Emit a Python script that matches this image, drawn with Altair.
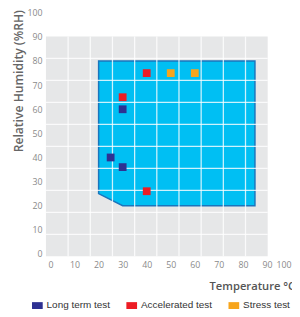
import altair as alt
import pandas as pd

# ---- data ----
zone_temp = [20, 85, 85, 30, 20]
zone_rh = [80, 80, 20, 20, 25]

series = ["Long term test", "Accelerated test", "Stress test"]
colors = ["#2e3192", "#ed1c24", "#f7a51c"]

long_temp = [30, 25, 30]
long_rh = [60, 40, 36]
acc_temp = [40, 30, 40]
acc_rh = [75, 65, 26]
stress_temp = [50, 60]
stress_rh = [75, 75]

axis_ticks = list(range(0, 101, 10))
grid_cells = list(range(1, 10))

# ---- tables ----
zone_df = pd.DataFrame({"t": zone_temp, "rh": zone_rh, "i": range(len(zone_temp))})
pts_df = pd.concat([
    pd.DataFrame({"t": long_temp, "rh": long_rh, "s": series[0]}),
    pd.DataFrame({"t": acc_temp, "rh": acc_rh, "s": series[1]}),
    pd.DataFrame({"t": stress_temp, "rh": stress_rh, "s": series[2]}),
], ignore_index=True)
grid_df = pd.DataFrame({"g": grid_cells})

W, H = 228, 226
xs = alt.Scale(domain=[-1.9, 100], range=[0, 252], nice=False, zero=False)
ys = alt.Scale(domain=[-1, 100], range=[226, -24.3], nice=False, zero=False)
gxs = alt.Scale(domain=[0, 10], range=[0, W], nice=False)
gys = alt.Scale(domain=[0, 10], range=[H, 0], nice=False)

zone = alt.Chart(zone_df).mark_line(
    interpolate="linear-closed", fill="#00bff3", stroke="#1b75bc", strokeWidth=1.5
).encode(
    x=alt.X("t:Q", scale=xs, axis=None),
    y=alt.Y("rh:Q", scale=ys, axis=None),
    order="i:O",
)

grid_v = alt.Chart(grid_df).mark_rule(color="white", strokeWidth=1.3, opacity=0.8).encode(
    x=alt.X("g:Q", scale=gxs, axis=None)
)
grid_h = alt.Chart(grid_df).mark_rule(color="white", strokeWidth=1.3, opacity=0.8).encode(
    y=alt.Y("g:Q", scale=gys, axis=None)
)

title_font = "Open Sans"
points = alt.Chart(pts_df).mark_square(size=64, opacity=1).encode(
    x=alt.X("t:Q", scale=xs, axis=alt.Axis(
        values=axis_ticks, title="Temperature °C", domain=False, ticks=False, grid=False,
        labelFont="Open Sans", labelFontSize=9, labelColor="#8a8a8a", labelPadding=5,
        titleFont=title_font, titleFontSize=11.5, titleFontWeight=600, titleColor="#555555",
        titleX=167.7, titleY=34, titleAlign="left", titleBaseline="alphabetic", titleAnchor="start",
    )),
    y=alt.Y("rh:Q", scale=ys, axis=alt.Axis(
        values=axis_ticks, title="Relative Humidity (%RH)", domain=False, ticks=False, grid=False,
        labelFont="Open Sans", labelFontSize=9, labelColor="#8a8a8a", labelPadding=4,
        titleFont=title_font, titleFontSize=12.5, titleFontWeight=600, titleColor="#666666",
        titleX=-28, titleY=45.5, titleAlign="center", titleBaseline="middle",
    )),
    color=alt.Color("s:N", scale=alt.Scale(domain=series, range=colors), legend=alt.Legend(
        title=None, orient="none", direction="horizontal", legendX=-14.3, legendY=271,
        symbolType="M-1,-0.64H1V0.64H-1Z", symbolSize=121, symbolStrokeWidth=0,
        labelFont="Liberation Sans", labelFontSize=10.2, labelColor="#333333",
        labelOffset=4, columnPadding=16,
    )),
)

chart = alt.layer(zone, grid_v, grid_h, points).resolve_scale(
    x="independent", y="independent"
).properties(
    width=W, height=H,
    autosize=alt.AutoSizeParams(type="none"),
    padding={"left": 39, "top": 25, "right": 25, "bottom": 54},
).configure_view(fill="#e6e7e8", stroke=None)

chart.save("out.html", embed_options={"renderer": "svg", "actions": False})
